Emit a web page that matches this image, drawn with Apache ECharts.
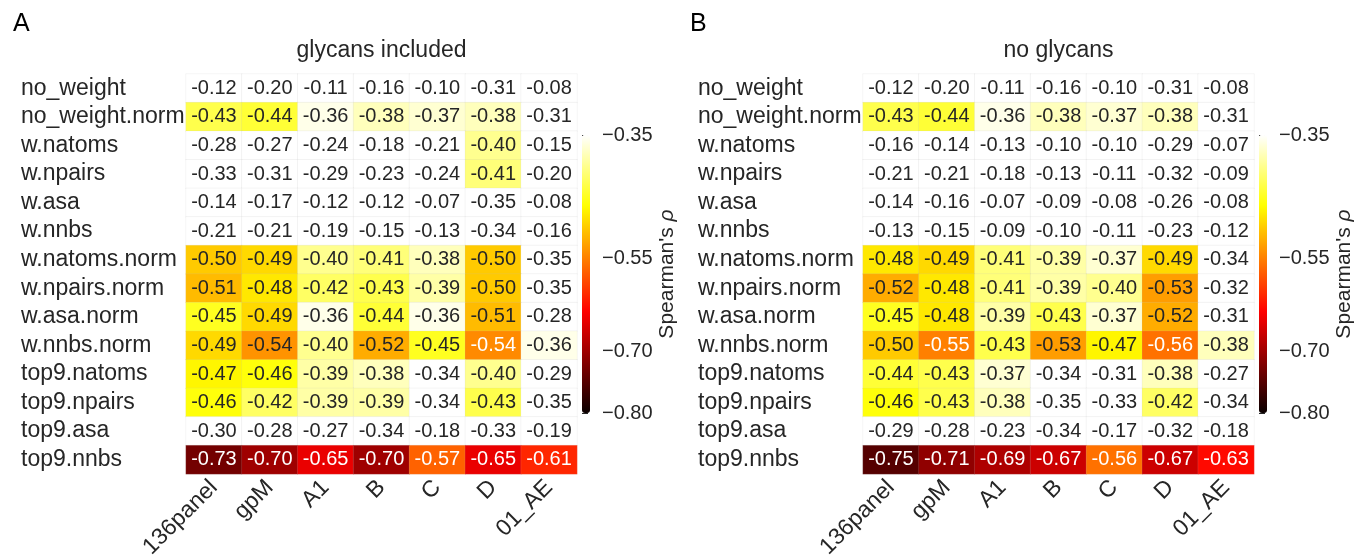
<!DOCTYPE html>
<html>
<head>
<meta charset="utf-8">
<script src="https://cdn.jsdelivr.net/npm/echarts@6/dist/echarts.min.js"></script>
<style>
html,body{margin:0;padding:0;background:#fff;}
#pic{width:1369px;height:555px;}
</style>
</head>
<body>
<div id="pic"></div>
<script>
var cols = ['136panel', 'gpM', 'A1', 'B', 'C', 'D', '01_AE'];
var rows = ['no_weight', 'no_weight.norm', 'w.natoms', 'w.npairs', 'w.asa', 'w.nnbs',
  'w.natoms.norm', 'w.npairs.norm', 'w.asa.norm', 'w.nnbs.norm',
  'top9.natoms', 'top9.npairs', 'top9.asa', 'top9.nnbs'];

// panel A, glycans included
var withGlycans = [
  [-0.12, -0.20, -0.11, -0.16, -0.10, -0.31, -0.08],
  [-0.43, -0.44, -0.36, -0.38, -0.37, -0.38, -0.31],
  [-0.28, -0.27, -0.24, -0.18, -0.21, -0.40, -0.15],
  [-0.33, -0.31, -0.29, -0.23, -0.24, -0.41, -0.20],
  [-0.14, -0.17, -0.12, -0.12, -0.07, -0.35, -0.08],
  [-0.21, -0.21, -0.19, -0.15, -0.13, -0.34, -0.16],
  [-0.50, -0.49, -0.40, -0.41, -0.38, -0.50, -0.35],
  [-0.51, -0.48, -0.42, -0.43, -0.39, -0.50, -0.35],
  [-0.45, -0.49, -0.36, -0.44, -0.36, -0.51, -0.28],
  [-0.49, -0.537, -0.40, -0.52, -0.45, -0.543, -0.36],
  [-0.47, -0.46, -0.39, -0.38, -0.34, -0.40, -0.29],
  [-0.46, -0.42, -0.39, -0.39, -0.34, -0.43, -0.35],
  [-0.30, -0.28, -0.27, -0.34, -0.18, -0.33, -0.19],
  [-0.73, -0.70, -0.65, -0.70, -0.57, -0.65, -0.61]
];
// panel B, no glycans
var noGlycans = [
  [-0.12, -0.20, -0.11, -0.16, -0.10, -0.31, -0.08],
  [-0.43, -0.44, -0.36, -0.38, -0.37, -0.38, -0.31],
  [-0.16, -0.14, -0.13, -0.10, -0.10, -0.29, -0.07],
  [-0.21, -0.21, -0.18, -0.13, -0.11, -0.32, -0.09],
  [-0.14, -0.16, -0.07, -0.09, -0.08, -0.26, -0.08],
  [-0.13, -0.15, -0.09, -0.10, -0.11, -0.23, -0.12],
  [-0.48, -0.49, -0.41, -0.39, -0.37, -0.49, -0.34],
  [-0.52, -0.48, -0.41, -0.39, -0.40, -0.53, -0.32],
  [-0.45, -0.48, -0.39, -0.43, -0.37, -0.52, -0.31],
  [-0.50, -0.55, -0.43, -0.53, -0.47, -0.56, -0.38],
  [-0.44, -0.43, -0.37, -0.34, -0.31, -0.38, -0.27],
  [-0.46, -0.43, -0.38, -0.35, -0.33, -0.42, -0.34],
  [-0.29, -0.28, -0.23, -0.34, -0.17, -0.32, -0.18],
  [-0.75, -0.71, -0.69, -0.67, -0.56, -0.67, -0.63]
];
var barTicks = [-0.35, -0.55, -0.70, -0.80];
var vMin = -0.80, vMax = -0.35;

var FONT = '"Liberation Sans", Arial, Helvetica, sans-serif';
var INK = '#262626';

// matplotlib "hot" colormap
function hot(t) {
  t = Math.max(0, Math.min(1, t));
  var r = t < 0.365079 ? 0.0416 + (1 - 0.0416) * t / 0.365079 : 1;
  var g = t < 0.365079 ? 0 : (t < 0.746032 ? (t - 0.365079) / (0.746032 - 0.365079) : 1);
  var b = t < 0.746032 ? 0 : (t - 0.746032) / (1 - 0.746032);
  return [r, g, b];
}
function toHex(c) {
  return '#' + c.map(function (x) {
    var h = Math.round(x * 255).toString(16);
    return h.length < 2 ? '0' + h : h;
  }).join('');
}
function lum(c) {
  var l = c.map(function (x) {
    return x <= 0.03928 ? x / 12.92 : Math.pow((x + 0.055) / 1.055, 2.4);
  });
  return 0.2126 * l[0] + 0.7152 * l[1] + 0.0722 * l[2];
}

var stops = [];
for (var i = 0; i <= 90; i++) stops.push(toHex(hot(i / 90)));

function cells(mat) {
  var out = [];
  for (var r = 0; r < rows.length; r++) {
    for (var c = 0; c < cols.length; c++) {
      var v = mat[r][c];
      var dark = lum(hot((v - vMin) / (vMax - vMin))) <= 0.408;
      out.push({ value: [c, r, v], label: { color: dark ? '#ffffff' : INK } });
    }
  }
  return out;
}

function heatGrid(left) {
  return { left: left, top: 74, width: 391, height: 400, outerBoundsMode: 'none' };
}
function catX(idx) {
  return {
    type: 'category', gridIndex: idx, data: cols,
    axisLine: { show: false }, axisTick: { show: false }, splitLine: { show: false },
    axisLabel: { rotate: 45, interval: 0, margin: 10, fontSize: 23, fontFamily: FONT, color: INK }
  };
}
function catY(idx) {
  return {
    type: 'category', gridIndex: idx, data: rows, inverse: true,
    axisLine: { show: false }, axisTick: { show: false }, splitLine: { show: false },
    axisLabel: { interval: 0, align: 'left', margin: 165, fontSize: 23, fontFamily: FONT, color: INK }
  };
}
function barY(idx) {
  return {
    type: 'value', gridIndex: idx, min: vMin, max: vMax, position: 'right',
    axisLine: { show: false }, splitLine: { show: false },
    axisTick: { show: true, length: 6, customValues: barTicks, lineStyle: { color: INK, width: 1 } },
    axisLabel: {
      customValues: barTicks, margin: 12, fontSize: 20, fontFamily: FONT, color: INK,
      formatter: function (v) { return '\u2212' + Math.abs(v).toFixed(2); }
    },
    name: "Spearman's {i|ρ}", nameLocation: 'middle', nameRotate: 90, nameGap: 66,
    nameTextStyle: { fontSize: 21, fontFamily: FONT, color: INK, rich: { i: { fontStyle: 'italic', fontSize: 21, fontFamily: FONT, color: INK } } }
  };
}
function heatSeries(idx, mat) {
  return {
    type: 'heatmap', xAxisIndex: idx, yAxisIndex: idx, data: cells(mat),
    label: {
      show: true, fontSize: 20, fontFamily: FONT,
      formatter: function (p) { return p.value[2].toFixed(2); }
    },
    itemStyle: { borderColor: 'rgba(190,190,190,0.25)', borderWidth: 0.6 },
    emphasis: { disabled: true },
    animation: false
  };
}
function colorBar(si, left) {
  return {
    type: 'continuous', seriesIndex: si, dimension: 2, min: vMin, max: vMax,
    inRange: { color: stops }, outOfRange: { color: ['#ffffff'] },
    calculable: false, hoverLink: false, showLabel: false, text: null,
    itemWidth: 8, itemHeight: 278, left: left, top: 135, padding: 0
  };
}

var chart = echarts.init(document.getElementById('pic'));
var option = {
  backgroundColor: '#ffffff',
  animation: false,
  textStyle: { fontFamily: FONT },
  graphic: [
    { type: 'text', x: 13, y: 24, style: { text: 'A', font: '25px ' + FONT, fill: '#000', textVerticalAlign: 'middle' } },
    { type: 'text', x: 690, y: 24, style: { text: 'B', font: '25px ' + FONT, fill: '#000', textVerticalAlign: 'middle' } },
    { type: 'text', x: 381.5, y: 51, style: { text: 'glycans included', font: '23px ' + FONT, fill: INK, textAlign: 'center', textVerticalAlign: 'middle' } },
    { type: 'text', x: 1058.5, y: 51, style: { text: 'no glycans', font: '23px ' + FONT, fill: INK, textAlign: 'center', textVerticalAlign: 'middle' } }
  ],
  grid: [
    heatGrid(186), heatGrid(863),
    { left: 582, top: 135, width: 8, height: 278, outerBoundsMode: 'none' },
    { left: 1259, top: 135, width: 8, height: 278, outerBoundsMode: 'none' }
  ],
  xAxis: [
    catX(0), catX(1),
    { type: 'value', gridIndex: 2, show: false },
    { type: 'value', gridIndex: 3, show: false }
  ],
  yAxis: [catY(0), catY(1), barY(2), barY(3)],
  visualMap: [colorBar(0, 582), colorBar(1, 1259)],
  series: [heatSeries(0, withGlycans), heatSeries(1, noGlycans)]
};
chart.setOption(option);
</script>
</body>
</html>
